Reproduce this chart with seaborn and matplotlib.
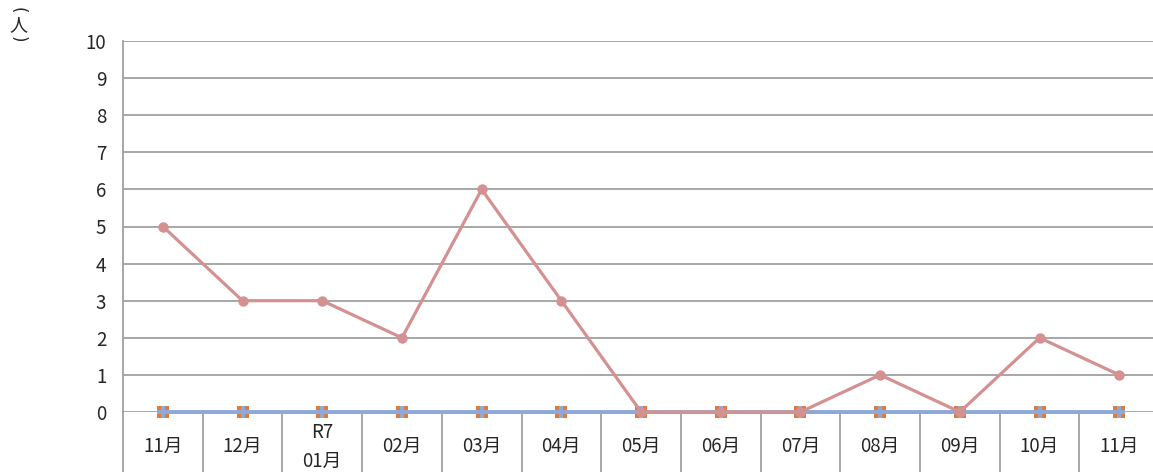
import numpy as np
import pandas as pd
import matplotlib
matplotlib.use("Agg")
import matplotlib.pyplot as plt
import seaborn as sns

# dati
mesi = ["11月", "12月", "R7\n01月", "02月", "03月", "04月", "05月",
        "06月", "07月", "08月", "09月", "10月", "11月"]
serie_rosa = [5, 3, 3, 2, 6, 3, 0, 0, 0, 1, 0, 2, 1]
serie_arancio = [0] * 13
serie_blu = [0] * 13

sns.set_style("white")
plt.rcParams["font.family"] = ["Noto Sans CJK JP", "DejaVu Sans"]

W, H = 1153, 472
fig = plt.figure(figsize=(W / 100, H / 100), dpi=100)
left, right, top, bottom = 123, 1153, 41, 412
ax = fig.add_axes([left / W, 1 - bottom / H, (right - left) / W, (bottom - top) / H])

pos = np.arange(len(mesi))
df = pd.DataFrame({"pos": pos, "rosa": serie_rosa,
                   "arancio": serie_arancio, "blu": serie_blu})

grid_c = "#A0A0A0"
for v in range(0, 11):
    ax.axhline(v, color=grid_c, lw=1.3, zorder=1)

sns.lineplot(data=df, x="pos", y="arancio", ax=ax, color="#E07B39",
             marker="s", markersize=8, lw=2, markeredgewidth=0, zorder=3,
             clip_on=False)
sns.lineplot(data=df, x="pos", y="blu", ax=ax, color="#8EA9D8",
             marker="P", markersize=8, lw=2.8, markeredgewidth=0, zorder=4,
             clip_on=False)
sns.lineplot(data=df, x="pos", y="rosa", ax=ax, color="#D39191",
             marker="o", markersize=7.5, lw=2.3, markeredgewidth=0, zorder=5,
             clip_on=False)

ax.set_ylim(0, 10)
xmax = (right - left) / 79.7 - 0.5
ax.set_xlim(-0.5, xmax)
ax.set_yticks(range(0, 11))
ax.set_yticklabels([str(v) for v in range(0, 11)], fontsize=13.5)
ax.set_xticks([])
ax.set_xlabel("")
ax.set_ylabel("")
ax.tick_params(axis="y", length=6, color=grid_c, width=1.3, pad=6)
for s in ["top", "right", "bottom"]:
    ax.spines[s].set_visible(False)
ax.spines["left"].set_color(grid_c)
ax.spines["left"].set_linewidth(1.3)

# separatori delle categorie sotto l'asse
unit = (bottom - top) / 10
y_fondo = -(H - bottom) / unit
ax.vlines(np.arange(len(mesi) + 1) - 0.5, y_fondo, 0, color=grid_c,
          lw=1.3, clip_on=False)
for i, m in enumerate(mesi):
    if "\n" in m:
        a, b = m.split("\n")
        ax.text(i, -(432 - bottom) / unit, a, ha="center", va="center",
                fontsize=13.5, clip_on=False)
        ax.text(i, -(461 - bottom) / unit, b, ha="center", va="center",
                fontsize=13.5, clip_on=False)
    else:
        ax.text(i, -(446 - bottom) / unit, m, ha="center", va="center",
                fontsize=13.5, clip_on=False)

# unità verticale
fig.text(18 / W, 1 - 10 / H, "(", ha="center", va="center", fontsize=12,
         rotation=-90, family="DejaVu Sans")
fig.text(18 / W, 1 - 25 / H, "人", ha="center", va="center", fontsize=13)
fig.text(18 / W, 1 - 39 / H, ")", ha="center", va="center", fontsize=12,
         rotation=-90, family="DejaVu Sans")

fig.savefig("out.png", dpi=100)
